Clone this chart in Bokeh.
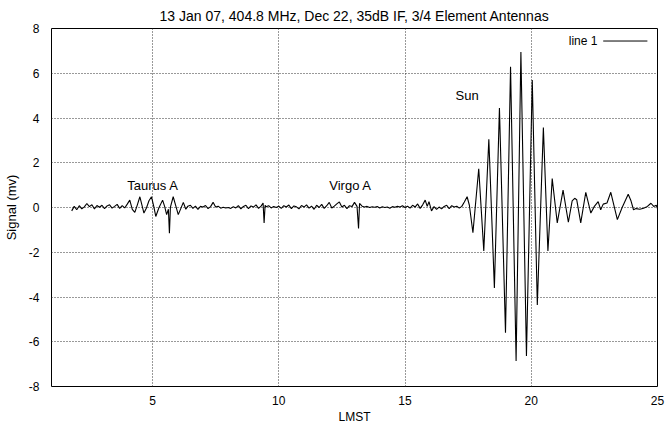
from bokeh.plotting import figure
from bokeh.models import Label, Arrow, FixedTicker, Range1d, ColumnDataSource
from bokeh.embed import file_html
from bokeh.resources import INLINE

TITLE = "13 Jan 07, 404.8 MHz, Dec 22, 35dB IF, 3/4 Element Antennas"
X_LABEL = "LMST"
Y_LABEL = "Signal (mv)"
LEGEND_TEXT = "line 1"

x_ticks = [5, 10, 15, 20, 25]
y_ticks = [-8, -6, -4, -2, 0, 2, 4, 6, 8]

source_names = ["Taurus A", "Virgo A", "Sun"]
source_x = [4, 12, 17]
source_y = [1, 1, 5]

lmst = [
    1.8, 1.9, 2.0, 2.1, 2.2, 2.3, 2.4, 2.5, 2.6, 2.7, 2.8, 2.9, 3.0, 3.1, 3.2, 3.3,
    3.4, 3.5, 3.6, 3.7, 3.8, 3.9, 4.0,
    4.1, 4.2, 4.3, 4.4, 4.5, 4.58, 4.66, 4.76, 4.86, 4.96, 5.05, 5.13, 5.25, 5.4,
    5.48, 5.56, 5.63, 5.67, 5.71, 5.82, 5.92, 6.02, 6.12, 6.22, 6.32, 6.4,
    6.5, 6.6, 6.7, 6.8, 6.9, 7.0, 7.1, 7.2, 7.3, 7.4, 7.5, 7.6, 7.7, 7.8, 7.9,
    8.0, 8.1, 8.2, 8.3, 8.4, 8.5, 8.6, 8.7, 8.8, 8.9, 9.0, 9.1, 9.2, 9.3, 9.38,
    9.42, 9.46, 9.5, 9.6, 9.7, 9.8, 9.9, 10.0, 10.1, 10.2, 10.3, 10.4, 10.5, 10.6,
    10.7, 10.8, 10.9, 11.0, 11.1, 11.2, 11.3, 11.4, 11.5, 11.6, 11.7, 11.8, 11.9,
    12.0, 12.1, 12.2, 12.3, 12.4, 12.5, 12.6, 12.7, 12.8, 12.9, 13.0, 13.1, 13.16,
    13.2, 13.3, 13.4, 13.5, 13.6, 13.7, 13.8, 13.9, 14.0, 14.1, 14.2, 14.3, 14.4,
    14.5, 14.6, 14.7, 14.8, 14.9, 15.0, 15.1, 15.2, 15.3, 15.4, 15.5, 15.6, 15.7,
    15.8, 15.88, 15.95, 16.05, 16.15, 16.25, 16.35, 16.45, 16.55, 16.65, 16.75,
    16.85, 16.95, 17.05, 17.15, 17.25, 17.35, 17.46, 17.55, 17.69,
    17.92, 18.12, 18.32, 18.54, 18.74, 18.98, 19.18, 19.40, 19.59, 19.81, 20.04,
    20.24, 20.48, 20.66, 20.83, 21.03, 21.26, 21.47, 21.62, 21.72, 21.80, 21.96,
    22.16, 22.36, 22.50, 22.65, 22.75, 22.85, 23.0, 23.15, 23.41, 23.6, 23.84,
    23.95, 24.05, 24.15, 24.3, 24.45, 24.6, 24.74, 24.85, 24.95, 25.0,
]

signal = [
    -0.15, 0.05, -0.10, 0.08, -0.06, 0.03, 0.18, 0.04, 0.12, -0.06, 0.09, 0.01, 0.10, -0.05, 0.07, 0.12,
    -0.03, 0.05, 0.14, -0.04, 0.08, -0.02, 0.15,
    0.33, -0.08, -0.22, 0.12, 0.48, 0.12, -0.25, -0.02, 0.30, 0.48, 0.05, -0.40, -0.02, 0.33,
    0.05, -0.32, -0.08, -1.15, 0.02, 0.48, 0.08, -0.32, -0.05, 0.23, -0.08, 0.06,
    0.10, -0.04, 0.06, -0.08, 0.05, 0.02, 0.09, -0.05, 0.04, 0.23, 0.02, 0.06, -0.03, 0.01, -0.02,
    0.00, -0.04, 0.03, -0.02, 0.08, -0.06, 0.05, 0.10, -0.05, 0.07, 0.02, 0.12, -0.04, 0.06, 0.20,
    -0.69, 0.10, 0.03, 0.08, -0.02, 0.05, 0.00, 0.06, -0.04, 0.08, 0.02, 0.11, -0.05, 0.07,
    0.03, -0.06, 0.09, 0.02, 0.12, -0.03, 0.06, -0.08, 0.10, 0.00, 0.14, -0.04, 0.08,
    0.23, -0.02, 0.06, 0.16, 0.25, 0.02, 0.10, -0.05, 0.08, 0.04, 0.23, 0.05, -0.94,
    0.18, 0.06, 0.02, 0.05, 0.00, 0.03, 0.01, 0.04, -0.02, 0.03, 0.00, 0.02, -0.03,
    0.04, 0.01, 0.05, 0.02, 0.08, 0.00, 0.06, -0.03, 0.10, 0.02, 0.16, -0.04, 0.12,
    0.33, 0.05, 0.26, -0.15, 0.04, -0.08, 0.02, -0.06, 0.05, 0.10, -0.05,
    0.08, 0.02, 0.06, -0.03, 0.05, 0.25, 0.48, 0.10, -1.13,
    1.73, -1.94, 3.05, -3.6, 4.45, -5.6, 6.29, -6.86, 6.95, -6.64, 5.7,
    -4.36, 3.57, -1.94, 1.29, -0.69, 0.78, -0.66, 0.30, 0.41, 0.35, -0.69,
    0.68, -0.25, 0.05, 0.26, -0.10, 0.15, 0.20, 0.68, -0.54, 0.0, 0.59,
    0.30, -0.10, -0.05, -0.08, -0.03, 0.05, 0.19, 0.05, 0.10, -0.05,
]

FONT = "Liberation Sans"

p = figure(
    frame_width=606, frame_height=358,
    x_range=Range1d(1, 25), y_range=Range1d(-8, 8),
    output_backend="svg", toolbar_location=None,
    title=TITLE,
    min_border_left=43, min_border_right=8, min_border_top=0, min_border_bottom=0,
    background_fill_color="white", border_fill_color="white",
)

p.title.align = "center"
p.title.text_font = FONT
p.title.text_font_size = "14px"
p.title.text_font_style = "normal"
p.title.text_color = "black"
p.title.standoff = 10

src = ColumnDataSource(dict(x=lmst, y=signal))
p.line("x", "y", source=src, line_color="black", line_width=1.1)

for ax in (p.xaxis[0], p.yaxis[0]):
    ax.axis_line_color = None
    ax.major_tick_line_color = None
    ax.minor_tick_line_color = None
    ax.major_label_text_font = FONT
    ax.major_label_text_font_size = "12px"
    ax.major_label_text_color = "black"
    ax.axis_label_text_font = FONT
    ax.axis_label_text_font_style = "normal"
    ax.axis_label_text_color = "black"

p.xaxis.axis_label_text_font_size = "12px"
p.yaxis.axis_label_text_font_size = "13px"
p.xaxis.ticker = FixedTicker(ticks=x_ticks)
p.yaxis.ticker = FixedTicker(ticks=y_ticks)
p.yaxis.major_label_overrides = {t: str(t) for t in y_ticks}
p.xaxis.axis_label = X_LABEL
p.yaxis.axis_label = Y_LABEL
p.xaxis.major_label_standoff = 3
p.xaxis.axis_label_standoff = 2
p.yaxis.major_label_standoff = 6
p.yaxis.axis_label_standoff = 7

p.xgrid.ticker = FixedTicker(ticks=x_ticks)
p.ygrid.ticker = FixedTicker(ticks=y_ticks)
for g in (p.xgrid[0], p.ygrid[0]):
    g.grid_line_color = "#333333"
    g.grid_line_dash = "1 2"
    g.grid_line_width = 1
    g.grid_line_alpha = 1

p.outline_line_color = "black"
p.outline_line_width = 1
p.outline_line_alpha = 1

for name, sx, sy in zip(source_names, source_x, source_y):
    p.add_layout(Label(x=sx, y=sy, text=name, text_align="left", text_baseline="middle",
                       text_font=FONT, text_font_size="13px", text_color="black"))

# gnuplot-style key: text on the left, line sample on the right (top-right corner)
p.add_layout(Label(x=22.62, y=7.44, text=LEGEND_TEXT, text_align="right", text_baseline="middle",
                   text_font=FONT, text_font_size="12px", text_color="black"))
p.add_layout(Arrow(x_start=22.85, y_start=7.44, x_end=24.6, y_end=7.44, end=None,
                   line_color="black", line_width=1))

open("out.html", "w").write(file_html(p, INLINE))
